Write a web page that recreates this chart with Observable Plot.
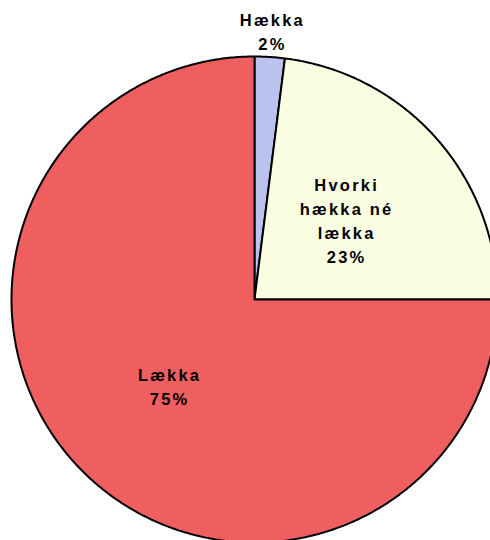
<!DOCTYPE html>
<html>
<head>
<meta charset="utf-8">
<script src="https://cdn.jsdelivr.net/npm/d3@7"></script>
<script src="https://cdn.jsdelivr.net/npm/@observablehq/plot@0.6"></script>
<style>
  html, body { margin: 0; padding: 0; background: #ffffff; }
  #chart svg { display: block; }
</style>
</head>
<body>
<div id="chart"></div>
<script>
const categories = ["Hækka", "Hvorki hækka né lækka", "Lækka"];
const labelLines = ["Hækka", "Hvorki\nhækka né\nlækka", "Lækka"];
const values = [2, 23, 75];
const colors = ["#b9c3ee", "#fbfde3", "#ef5f5f"];

const W = 490, H = 540;
const cx = 254, cy = 299, R = 243;

const pie = d3.pie().sort(null).value(d => d)(values);

// polygon points for each slice (angle 0 at top, clockwise)
const pts = [];
pie.forEach((p, i) => {
  const n = Math.max(4, Math.ceil((p.endAngle - p.startAngle) / (Math.PI / 360)));
  pts.push({k: i, x: 0, y: 0});
  for (let j = 0; j <= n; j++) {
    const a = p.startAngle + (p.endAngle - p.startAngle) * j / n;
    pts.push({k: i, x: Math.sin(a), y: Math.cos(a)});
  }
  pts.push({k: i, x: 0, y: 0});
});

const labels = pie.map((p, i) => {
  const a = (p.startAngle + p.endAngle) / 2;
  const r = values[i] < 5 ? 1.11 : 0.5;
  return {x: Math.sin(a) * r, y: Math.cos(a) * r, text: labelLines[i] + "\n" + values[i] + "%"};
});

const chart = Plot.plot({
  width: W,
  height: H,
  margin: 0,
  x: {domain: [-cx / R, (W - cx) / R], axis: null},
  y: {domain: [-(H - cy) / R, cy / R], axis: null},
  marks: [
    Plot.line(pts, {
      x: "x", y: "y", z: "k",
      fill: d => colors[d.k],
      stroke: "#000",
      strokeWidth: 2,
      strokeLinejoin: "miter",
      curve: "linear"
    }),
    Plot.text(labels, {
      x: "x", y: "y", text: "text",
      fontFamily: "Liberation Sans, Arial, sans-serif",
      fontSize: 16.5,
      fontWeight: "bold",
      fill: "#000",
      lineHeight: 1.45,
      dx: 1
    })
  ],
  style: {background: "#ffffff", overflow: "hidden"}
});
chart.querySelectorAll("text").forEach(t => t.setAttribute("letter-spacing", "2.2"));
document.getElementById("chart").appendChild(chart);
</script>
</body>
</html>
